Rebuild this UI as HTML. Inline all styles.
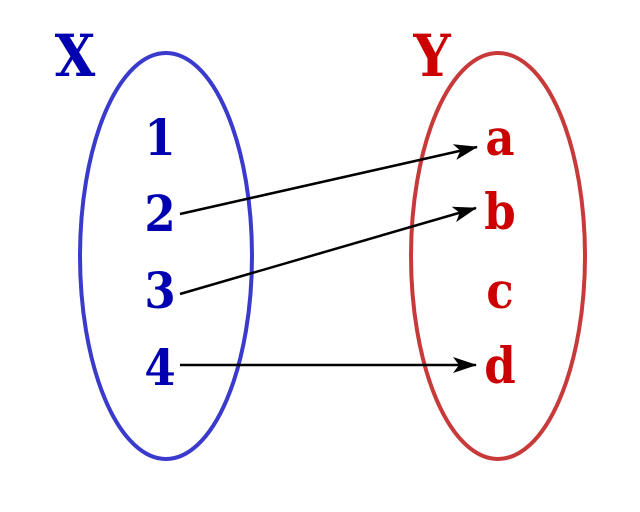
<!DOCTYPE html>
<html><head><meta charset="utf-8"><style>
html,body{margin:0;padding:0;background:#fff;}
svg{display:block;}
text{font-family:"DejaVu Serif Condensed","DejaVu Serif","Liberation Serif",serif;font-weight:bold;font-stretch:condensed;}
</style></head><body>
<svg width="640" height="512" viewBox="0 0 640 512" xmlns="http://www.w3.org/2000/svg">
<defs>
<marker id="ah" markerWidth="24" markerHeight="16" refX="23" refY="8" orient="auto" markerUnits="userSpaceOnUse">
<path d="M0,0 L24,8 L0,16 L6,8 Z" fill="#000"/>
</marker>
</defs>
<ellipse cx="166" cy="256" rx="86" ry="203" fill="none" stroke="#3a3acc" stroke-width="4"/>
<ellipse cx="498" cy="256" rx="87" ry="203" fill="none" stroke="#c83a3a" stroke-width="4"/>
<g fill="#0000b0" font-size="50" text-anchor="middle">
<text x="75" y="76" font-size="58">X</text>
<text x="160" y="155">1</text>
<text x="160" y="231">2</text>
<text x="160" y="308">3</text>
<text x="160" y="385">4</text>
</g>
<g fill="#cc0000" font-size="50" text-anchor="middle">
<text x="432" y="76" font-size="58">Y</text>
<text x="500" y="155">a</text>
<text x="500" y="229">b</text>
<text x="500" y="308">c</text>
<text x="500" y="383">d</text>
</g>
<g stroke="#000" stroke-width="2.5" fill="none">
<line x1="180" y1="214" x2="477" y2="147" marker-end="url(#ah)"/>
<line x1="180" y1="294" x2="476" y2="208" marker-end="url(#ah)"/>
<line x1="180" y1="365" x2="476" y2="365" marker-end="url(#ah)"/>
</g>
</svg>
</body></html>
